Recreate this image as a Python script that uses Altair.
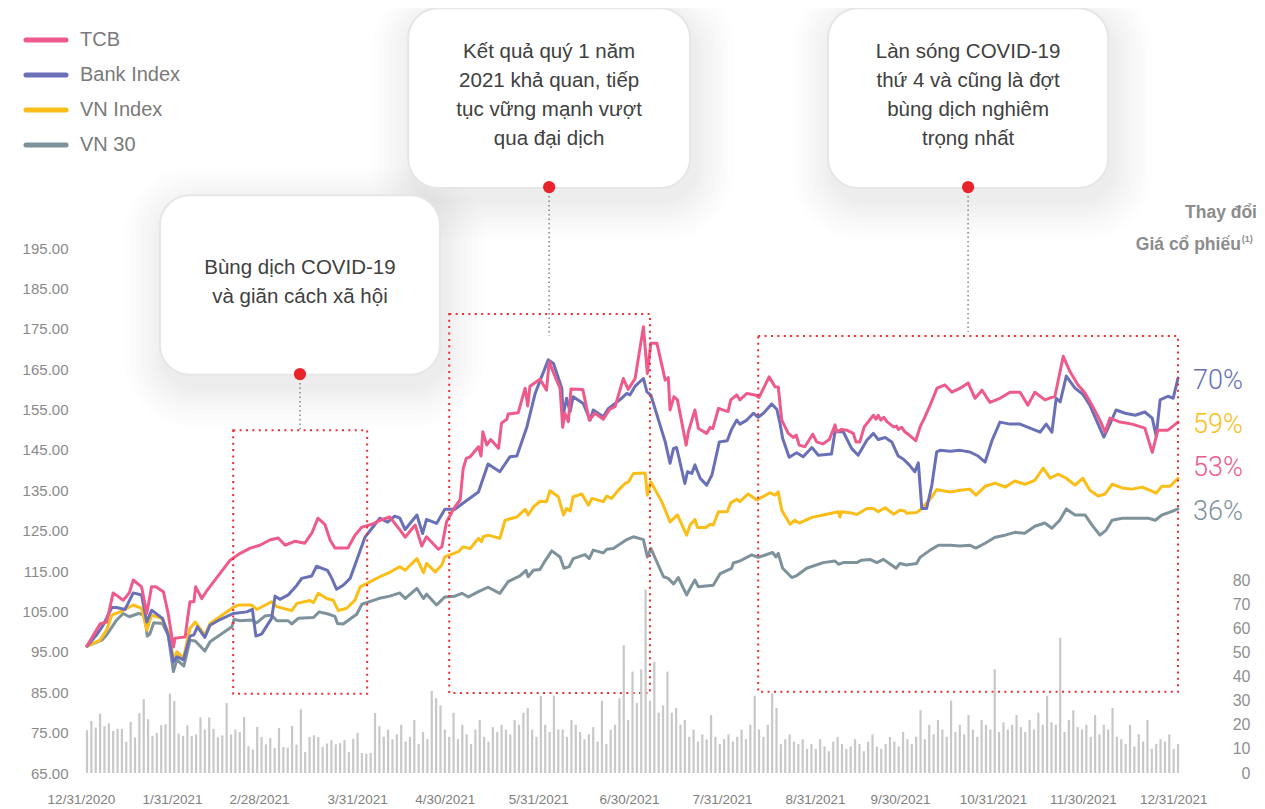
import json
import altair as alt
import pandas as pd

# ---------------- data (x = trading-session index of 2021, value = indexed price) -------------
tcb = [(0,96.5),(3,101.9),(4.5,102.4),(6,109.6),(8.3,107.8),(9.7,109.6),(10.6,112.8),(12.5,111.1),(13.7,104.5),(14.8,111.1),(15.8,111.1),(17.5,109.9),(18.6,104.5),(19.8,96.2),(20.2,98.4),(22.5,98.7),(23.0,102.9),(23.6,107.4),(24.5,107.4),(24.9,111.1),(26.3,108.2),(27.3,109.9),(32.8,117.7),(35.1,119.4),(37.4,120.7),(39.6,121.4),(41.9,122.7),(43.8,123.2),(45.4,121.4),(47.7,122.4),(49.9,121.9),(51.6,124.6),(52.9,128.1),(54.5,126.6),(55.7,122.7),(56.8,120.7),(59.8,120.7),(61.4,123.9),(63.0,125.9),(65.3,126.6),(67.2,127.6),(69.4,128.4),(71.7,125.2),(72.9,123.4),(75.2,126.4),(76.7,121.2),(77.8,123.5),(80.5,120.4),(81.3,121.0),(82.4,127.2),(84.3,130.9),(85.5,132.6),(86.2,140.4),(86.9,142.9),(87.8,143.3),(89.7,145.8),(90.3,143.5),(90.7,149.5),(91.6,146.2),(92.5,147.6),(94.3,145.4),(95.0,151.7),(96.2,152.6),(96.5,153.9),(98.8,154.2),(100.4,160.3),(101.0,155.9),(101.5,160.8),(103.8,162.5),(105.3,159.8),(105.9,166.8),(107.6,162.3),(108.4,160.3),(109.0,150.6),(109.5,154.1),(110.3,152.0),(110.9,160.1),(113.6,160.0),(115.1,152.4),(116.4,154.1),(118.3,152.6),(119.8,155.1),(121.0,155.7),(122.9,162.7),(124.0,160.0),(125.6,162.7),(127.5,175.5),(128.4,163.9),(129.2,171.4),(130.6,171.4),(132.5,162.3),(133.2,162.9),(133.6,154.9),(134.5,158.2),(135.3,157.4),(137.3,146.2),(137.8,149.5),(139.3,154.9),(140.1,150.3),(142.0,149.1),(142.8,150.6),(143.4,150.3),(144.7,155.3),(146.9,154.5),(147.5,157.4),(148.9,158.6),(149.6,157.4),(151.2,159.0),(153.1,158.6),(154.0,158.0),(156.3,163.1),(157.7,160.6),(158.4,160.6),(159.2,152.4),(160.7,149.1),(161.9,148.1),(162.5,148.7),(163.2,146.2),(164.5,145.8),(166.3,148.9),(167.2,147.0),(168.6,146.5),(170.1,147.6),(171.4,151.2),(171.8,149.5),(172.9,150.1),(174.1,149.9),(175.6,149.1),(176.2,147.0),(177.1,147.0),(178.1,150.7),(180.2,153.6),(180.8,152.6),(181.3,153.6),(181.9,152.4),(182.6,153.1),(183.3,152.0),(184.8,150.7),(185.5,150.9),(185.9,150.1),(186.7,150.6),(187.4,149.5),(188.4,148.7),(189.9,147.3),(190.9,150.7),(191.8,152.7),(193.2,156.1),(194.8,160.3),(196.6,161.1),(198.2,159.3),(200.1,160.3),(201.9,161.6),(203.5,157.8),(205.1,159.8),(206.9,156.8),(209.2,157.8),(211.5,159.3),(213.8,159.3),(215.6,156.1),(217.2,159.3),(219.5,157.4),(221.8,158.3),(223.7,168.2),(225.3,164.3),(227.1,161.1),(228.7,159.1),(230.3,156.1),(232.1,152.4),(233.3,149.4),(234.4,152.9),(236.7,151.9),(239.5,151.4),(242.4,150.4),(244.1,144.4),(245.4,149.9),(247.7,149.9),(250.0,151.9)]

bank = [(0,96.4),(2.2,99.2),(3.7,101.6),(5.7,106.0),(6.8,106.0),(8.7,105.5),(10.6,109.6),(12.5,109.1),(13.7,102.4),(14.8,105.3),(17.3,103.3),(18.6,99.2),(19.8,92.5),(20.6,93.8),(22.1,93.0),(23.6,98.9),(24.5,99.2),(25.3,101.2),(27.0,98.6),(28.2,101.6),(30.5,103.0),(33.5,104.5),(36.6,104.9),(37.9,105.5),(38.7,98.9),(40.0,99.4),(42.3,103.3),(43.1,108.8),(44.2,108.0),(46.1,109.1),(48.1,111.5),(49.2,113.2),(51.5,113.8),(52.6,116.2),(55.1,115.2),(56.1,113.2),(57.2,110.5),(58.7,111.5),(60.3,113.2),(61.8,117.7),(63.7,123.4),(65.3,125.6),(67.1,128.1),(68.9,127.1),(70.5,128.6),(71.7,128.1),(72.9,125.3),(75.6,128.9),(76.9,124.3),(77.8,127.8),(80.1,126.8),(82.0,130.3),(84.3,130.3),(85.9,131.6),(89.7,134.6),(91.9,141.5),(94.6,139.6),(96.9,143.3),(98.5,143.5),(100.8,150.7),(102.7,159.0),(103.8,162.1),(105.7,167.3),(106.9,166.4),(108.8,160.3),(109.1,153.6),(109.9,157.8),(110.7,154.5),(111.4,158.2),(113.7,156.5),(115.3,152.4),(116.0,154.9),(118.3,153.2),(119.5,155.3),(122.1,157.4),(123.7,159.0),(124.4,158.6),(125.6,160.8),(127.5,162.7),(128.3,159.4),(129.2,158.6),(132.5,147.0),(133.6,141.7),(134.4,145.4),(135.1,145.6),(137.0,136.7),(137.6,139.6),(138.6,139.2),(139.3,141.3),(140.5,138.0),(142.0,136.3),(143.2,138.8),(144.9,147.0),(146.7,147.3),(147.7,150.1),(148.9,152.4),(149.6,151.4),(151.2,152.4),(152.7,154.1),(153.8,153.1),(155.0,154.1),(156.9,156.4),(158.1,155.0),(158.8,151.6),(159.4,147.9),(160.9,143.2),(162.6,144.3),(164.1,143.3),(166.1,145.6),(167.6,143.7),(170.6,144.0),(171.4,149.5),(173.3,149.5),(175.2,145.4),(176.7,143.7),(178.7,147.4),(180.2,149.1),(181.3,147.6),(182.9,148.1),(184.4,147.0),(185.9,143.5),(187.1,142.7),(188.4,141.3),(189.7,139.6),(190.5,141.8),(191.3,130.5),(192.4,130.5),(193.6,136.3),(194.7,144.5),(195.5,144.9),(197.8,144.7),(200.1,144.9),(202.3,144.5),(204.2,143.5),(205.8,142.0),(207.4,147.4),(209.2,151.9),(211.5,151.4),(213.8,151.4),(216.1,150.4),(218.4,149.4),(219.8,151.4),(221.1,149.4),(222.1,157.8),(223.0,156.9),(224.4,163.3),(226.4,160.3),(228.2,158.8),(229.8,156.1),(231.7,151.4),(233.0,148.2),(234.4,151.4),(235.8,154.9),(237.9,154.1),(240.2,153.6),(242.4,154.4),(244.1,152.9),(245.0,148.4),(245.9,157.4),(247.7,158.3),(248.9,157.8),(250.0,162.8)]

vnindex = [(0,96.4),(3.0,97.9),(4.5,100.4),(5.7,104.1),(7.6,104.9),(8.7,105.5),(10.6,106.6),(12.5,105.8),(13.7,100.4),(14.8,104.1),(17.1,103.3),(18.6,100.0),(19.8,93.4),(20.6,95.0),(22.1,93.4),(23.6,100.8),(24.8,102.4),(27.0,99.1),(28.2,102.0),(33.5,106.0),(34.7,106.6),(37.7,106.6),(38.9,105.5),(42.3,107.4),(43.5,106.2),(46.9,105.2),(48.1,107.0),(51.1,107.7),(51.9,107.2),(53.0,109.5),(54.9,108.2),(56.4,107.8),(57.6,105.2),(59.5,105.8),(61.4,107.8),(62.6,111.1),(67.1,113.6),(69.4,114.7),(71.7,116.1),(72.9,115.2),(75.6,118.1),(77.1,114.6),(77.8,116.9),(79.8,114.8),(81.3,116.5),(82.0,118.5),(85.1,119.8),(86.2,121.0),(87.8,120.6),(89.7,123.1),(90.4,122.3),(90.8,123.5),(91.9,123.9),(94.6,123.1),(95.8,127.6),(98.5,128.4),(100.4,130.3),(101.1,128.9),(102.3,130.9),(103.8,132.3),(105.3,132.2),(106.1,134.9),(108.0,133.4),(109.2,128.9),(109.9,130.5),(110.7,129.9),(111.4,133.4),(113.4,134.1),(114.9,131.3),(115.7,133.0),(118.3,132.2),(119.1,133.6),(120.2,133.0),(121.8,135.1),(123.3,136.7),(124.1,137.1),(125.2,139.2),(127.9,139.3),(128.4,133.8),(129.2,137.1),(131.7,132.2),(133.6,127.2),(135.3,128.9),(137.4,123.9),(138.2,126.4),(139.3,127.8),(139.9,125.8),(141.8,125.8),(142.8,126.6),(143.5,126.4),(144.7,129.7),(146.7,129.7),(147.5,131.9),(148.9,132.8),(149.6,132.2),(151.5,134.1),(153.5,132.6),(156.5,134.4),(157.7,133.8),(158.4,134.6),(159.2,130.1),(161.1,126.6),(162.2,127.6),(163.2,126.9),(166.1,128.3),(168.7,128.9),(172.2,129.7),(172.5,128.4),(172.9,129.7),(175.2,129.4),(176.4,129.0),(178.7,130.5),(180.2,130.5),(181.3,129.7),(182.9,130.7),(184.8,129.1),(186.3,130.1),(187.4,129.9),(187.8,129.3),(190.1,129.5),(191.3,130.5),(193.6,133.4),(194.7,135.2),(195.5,135.0),(197.8,134.6),(200.1,135.0),(202.3,135.3),(203.7,133.8),(205.8,136.0),(208.1,136.8),(210.4,135.8),(212.6,137.3),(214.9,136.5),(217.2,137.5),(219.1,140.5),(220.7,138.0),(222.5,139.0),(224.4,138.0),(226.4,136.3),(228.2,138.0),(229.8,135.0),(231.7,133.6),(233.3,134.1),(234.9,136.5),(237.2,135.6),(239.5,135.3),(241.8,135.8),(243.6,135.0),(245.0,134.3),(246.3,136.0),(248.2,136.0),(250.0,138.0)]

vn30 = [(0,96.4),(3.4,97.9),(4.5,99.2),(6.8,102.9),(8.3,104.5),(9.7,103.7),(11.8,104.5),(13.3,104.1),(13.8,98.9),(14.4,99.4),(15.3,102.2),(17.3,102.0),(18.6,99.2),(19.8,90.1),(20.6,93.0),(22.2,91.5),(23.6,97.9),(24.8,97.7),(27.0,95.2),(28.2,97.5),(33.2,101.2),(33.7,103.0),(35.1,102.7),(37.7,102.9),(38.9,102.2),(40.8,103.9),(42.3,104.1),(43.5,102.7),(46.1,102.7),(46.9,101.9),(48.4,103.3),(51.9,103.5),(53.2,104.9),(55.5,104.3),(56.8,103.8),(57.4,102.0),(58.7,101.9),(61.8,104.3),(63.0,106.8),(66.8,108.2),(69.4,108.8),(71.7,109.6),(72.9,108.2),(75.6,110.7),(77.1,108.2),(77.8,109.3),(80.1,106.6),(82.0,108.6),(84.3,108.8),(85.9,109.5),(87.4,108.6),(89.7,109.9),(91.9,111.0),(94.6,109.5),(96.5,112.4),(99.2,113.8),(100.6,115.2),(101.1,113.6),(102.3,115.2),(103.8,115.4),(104.6,116.9),(106.5,120.0),(108.4,118.5),(109.3,115.7),(110.5,116.1),(111.4,118.1),(114.1,119.1),(115.1,118.1),(116.0,120.2),(118.3,119.5),(119.1,120.4),(120.6,120.6),(123.7,122.8),(125.2,123.5),(127.5,122.8),(128.4,118.5),(129.2,120.6),(132.1,113.6),(133.2,113.2),(134.4,111.8),(135.5,113.4),(137.4,109.1),(138.6,111.5),(139.3,112.8),(140.1,111.1),(143.5,111.5),(145.1,114.4),(147.7,115.7),(148.1,117.0),(149.6,117.5),(152.3,119.0),(153.8,118.4),(157.1,119.6),(157.9,118.5),(158.4,119.4),(159.4,115.7),(161.5,113.4),(162.5,113.8),(164.9,115.7),(168.7,117.1),(171.4,117.5),(172.2,116.7),(173.3,117.1),(176.4,117.1),(177.5,117.7),(179.4,117.9),(181.0,117.1),(182.5,117.9),(185.4,115.7),(186.3,116.9),(187.8,116.5),(190.1,116.9),(190.9,118.4),(193.2,120.2),(195.1,121.4),(197.8,121.4),(200.1,121.2),(202.3,121.4),(203.7,120.7),(205.8,121.9),(208.1,123.4),(210.4,123.9),(212.6,124.6),(214.9,124.4),(217.2,126.1),(219.5,126.9),(221.1,125.6),(222.9,127.6),(224.4,130.4),(226.4,128.9),(228.7,128.9),(230.3,126.4),(232.1,123.9),(233.5,125.1),(234.9,127.6),(237.2,128.1),(240.2,128.1),(243.2,128.1),(244.8,127.6),(246.3,128.9),(248.2,129.6),(250.0,130.4)]

# trading volume per session (right axis)
volume = [17.7,21.6,18.8,24.6,19.4,20.5,17.4,18.3,18.3,12.9,21.2,14.7,24.9,30.6,22.3,15.4,16.6,19.8,20.2,32.9,
          29.9,16.3,15.4,19.8,15.4,16.0,23.0,18.0,23.0,18.3,14.8,15.6,29.0,16.0,18.0,17.0,23.2,11.1,9.7,19.1,
          14.9,11.9,14.5,10.4,18.7,10.8,10.5,19.5,11.8,26.4,8.7,14.9,15.6,14.9,10.8,12.2,13.6,11.9,12.4,13.6,
          8.7,14.2,16.6,8.3,8.0,8.3,24.9,19.4,15,
          18,14,16,20,13,15,22,12,17,14,34,31,28,
          18,15,25,14,20,16,12,18,22,15,13,19,17,20,
          18,16,22,20,25,27,18,15,32,20,17,32,18,
          18,15,22,20,17,14,16,19,13,30,12,18,20,31,
          53,22,42,29,43,76,30,46,25,28,42,25,27,20,
          22,15,18,13,16,14,24,15,12,14,16,13,15,18,14,20,32,
          18,15,20,33,27,12,14,16,13,12,14,10,
          12,10,14,11,9,13,15,12,10,11,14,12,9,13,16,11,10,12,15,13,11,17,14,12,15,
          26,
          14,20,16,22,18,15,30,17,20,16,24,18,15,22,20,18,43,17,21,
          18,20,24,19,17,22,18,25,20,32,21,20,56,17,22,26,19,18,20,15,
          24,16,20,18,27,15,14,12,20,11,16,13,22,10,12,14,13,16,10,12]

series_names = ["TCB", "Bank Index", "VN Index", "VN 30"]
series_colors = ["#ee5b8b", "#6a70b8", "#fbbd17", "#7e929b"]
change_labels = ["53%", "70%", "59%", "36%"]
change_at = [140.5, 162.1, 151.2, 129.6]          # vertical position of the % labels (price units)

x_tick_pos = [-1.4, 19.5, 39.4, 61.9, 82.0, 103.4, 124.2, 145.5, 166.8, 186.3, 207.6, 228.2, 248.9]
x_tick_lab = ["12/31/2020", "1/31/2021", "2/28/2021", "3/31/2021", "4/30/2021", "5/31/2021",
              "6/30/2021", "7/31/2021", "8/31/2021", "9/30/2021", "10/31/2021", "11/30/2021", "12/31/2021"]
y_ticks = list(range(65, 196, 10))
vol_ticks = list(range(0, 81, 10))

# annotations (in session / price units)
callout_text = ["Bùng dịch COVID-19\nvà giãn cách xã hội",
                "Kết quả quý 1 năm\n2021 khả quan, tiếp\ntục vững mạnh vượt\nqua đại dịch",
                "Làn sóng COVID-19\nthứ 4 và cũng là đợt\nbùng dịch nghiêm\ntrọng nhất"]
callout_box = [(16.7, 80.9, 208.1, 163.6), (73.6, 138.2, 254.4, 209.9), (169.8, 234.0, 254.4, 209.9)]
callout_first_line = [(48.8, 190.1), (105.9, 243.6), (201.9, 243.6)]
callout_dot = [(48.8, 163.8), (105.9, 210.1), (201.9, 210.1)]
callout_lead_end = [149.9, 173.2, 174.2]
zones = [(33.5, 64.2, 149.9, 84.6), (83.0, 129.0, 178.7, 84.8), (153.8, 250.0, 173.2, 85.1)]

# ---------------- layout ----------------
PX_DAY = 4.364      # pixels per session
PX_PT = 4.038       # pixels per price point
X0, X1 = -1.604, 252.75
Y0, Y1 = 65, 254.45
V1 = 317.1
FONT = "Liberation Sans"

xs = alt.Scale(domain=[X0, X1], nice=False, zero=False, padding=0)
ys = alt.Scale(domain=[Y0, Y1], nice=False, zero=False, padding=0)
vs = alt.Scale(domain=[0, V1], nice=False, zero=False, padding=0)
cscale = alt.Scale(domain=series_names, range=series_colors)

label_expr = f"{json.dumps(x_tick_lab)}[indexof({json.dumps(x_tick_pos)}, datum.value)]"
x_axis = alt.Axis(values=x_tick_pos, labelExpr=label_expr, title=None, domain=False, ticks=False,
                  grid=False, labelFontSize=13.5, labelColor="#808080", labelFont=FONT,
                  labelPadding=19, labelFlush=False, labelOverlap=False, labelBound=False)
y_axis = alt.Axis(values=y_ticks, format=".2f", title=None, domain=False, ticks=False, grid=False,
                  labelFontSize=15, labelColor="#8a8a8a", labelFont=FONT, labelPadding=12,
                  labelFlush=False, labelOverlap=False)
v_axis = alt.Axis(orient="right", values=vol_ticks, title=None, domain=False, ticks=False, grid=False,
                  labelFontSize=16, labelColor="#8f8f8f", labelFont=FONT, labelAlign="right",
                  labelPadding=60, labelFlush=False, labelOverlap=False)


def X(field):
    return alt.X(field, type="quantitative", scale=xs, axis=x_axis)


def Y(field):
    return alt.Y(field, type="quantitative", scale=ys, axis=y_axis)


# volume bars
vol_df = pd.DataFrame({"d": list(range(len(volume))), "v": volume})
vol_layer = alt.Chart(vol_df).mark_bar(color="#c8c8c8", size=2.2, orient="vertical").encode(
    x=X("d"), y=alt.Y("v", type="quantitative", scale=vs, axis=v_axis))


# series lines (drawn back to front)
def line_layer(pairs, color):
    df = pd.DataFrame(pairs, columns=["d", "v"])
    return alt.Chart(df).mark_line(color=color, strokeWidth=3, strokeJoin="round", strokeCap="round").encode(
        x=X("d"), y=Y("v"))


lines = [line_layer(vn30, series_colors[3]), line_layer(vnindex, series_colors[2]),
         line_layer(bank, series_colors[1]), line_layer(tcb, series_colors[0])]

# callout boxes with a soft shadow
box_df = pd.DataFrame(callout_box, columns=["x0", "x1", "y0", "y1"])
shadow_layers = []
for spread in [40, 34, 28, 23, 18, 14, 10, 6, 3]:
    sdf = pd.DataFrame({
        "x0": box_df.x0 - spread / PX_DAY + 4 / PX_DAY,
        "x1": box_df.x1 + spread / PX_DAY + 4 / PX_DAY,
        "y0": box_df.y0 + spread / PX_PT - 12 / PX_PT,
        "y1": box_df.y1 - spread / PX_PT - 12 / PX_PT,
    })
    shadow_layers.append(alt.Chart(sdf).mark_rect(cornerRadius=30 + spread, color="#000000", opacity=0.0095)
                         .encode(x=X("x0"), x2="x1", y=Y("y0"), y2="y1"))
box_layer = alt.Chart(box_df).mark_rect(cornerRadius=30, fill="#ffffff", stroke="#e6e6e6", strokeWidth=2).encode(
    x=X("x0"), x2="x1", y=Y("y0"), y2="y1")

txt_df = pd.DataFrame({"x": [m[0] for m in callout_first_line], "y": [m[1] for m in callout_first_line],
                       "t": callout_text})
txt_layer = alt.Chart(txt_df).mark_text(lineBreak="\n", lineHeight=29, fontSize=20.5, font=FONT, color="#404040",
                                        align="center", baseline="middle").encode(x=X("x"), y=Y("y"), text="t:N")

lead_df = pd.DataFrame({"x": [d[0] for d in callout_dot], "y": [d[1] for d in callout_dot], "y2": callout_lead_end})
lead_layer = alt.Chart(lead_df).mark_rule(color="#8c8c8c", strokeWidth=1.6, strokeDash=[1.5, 3]).encode(
    x=X("x"), y=Y("y"), y2="y2")
dot_layer = alt.Chart(lead_df).mark_circle(size=150, color="#e8232c", opacity=1).encode(x=X("x"), y=Y("y"))

zone_df = pd.DataFrame(zones, columns=["x0", "x1", "y0", "y1"])
zone_layer = alt.Chart(zone_df).mark_rect(fillOpacity=0, stroke="#ef2b30", strokeWidth=2, strokeDash=[2, 4.4]).encode(
    x=X("x0"), x2="x1", y=Y("y0"), y2="y1")

# legend (top-left)
leg_df = pd.DataFrame({"s": series_names,
                       "y": [256.43 - 0.24765 * py for py in (40, 75, 110, 145)],
                       "x0": [-13.98] * 4, "x1": [-4.81] * 4, "tx": [-1.6] * 4})
leg_rule = alt.Chart(leg_df).mark_rule(strokeWidth=5, strokeCap="round").encode(
    x=X("x0"), x2="x1", y=Y("y"), color=alt.Color("s:N", scale=cscale, legend=None))
leg_text = alt.Chart(leg_df).mark_text(align="left", baseline="middle", fontSize=20, font=FONT, color="#7a7a7a").encode(
    x=X("tx"), y=Y("y"), text="s:N")

# change labels on the right
chg_df = pd.DataFrame({"s": series_names, "t": change_labels, "y": change_at, "x": [253.45] * 4})
chg_layer = alt.Chart(chg_df).mark_text(align="left", baseline="middle", fontSize=27, font="Roboto", fontWeight=300).encode(
    x=X("x"), y=Y("y"), text="t:N", color=alt.Color("s:N", scale=cscale, legend=None))

head_df = pd.DataFrame({"x": [268.1, 264.4], "y": [203.8, 195.8], "t": ["Thay đổi", "Giá cổ phiếu"]})
head_layer = alt.Chart(head_df).mark_text(align="right", baseline="middle", fontSize=17.5, fontWeight="bold",
                                          font=FONT, color="#8c8c8c").encode(x=X("x"), y=Y("y"), text="t:N")
sup_df = pd.DataFrame({"x": [264.6], "y": [197.3], "t": ["(1)"]})
sup_layer = alt.Chart(sup_df).mark_text(align="left", baseline="middle", fontSize=9, fontWeight="bold",
                                        font=FONT, color="#8c8c8c").encode(x=X("x"), y=Y("y"), text="t:N")

price_layer = alt.layer(*lines, *shadow_layers, box_layer, txt_layer, zone_layer, lead_layer, dot_layer,
                        leg_rule, leg_text, chg_layer, head_layer, sup_layer)

chart = alt.layer(price_layer, vol_layer).resolve_scale(y="independent").properties(
    width=1110, height=765,
    padding={"left": 72, "top": 0, "right": 67, "bottom": 36},
    autosize=alt.AutoSizeParams(type="none"),
).configure_view(stroke=None)

chart.save("out.html", embed_options={"renderer": "svg", "actions": False})
